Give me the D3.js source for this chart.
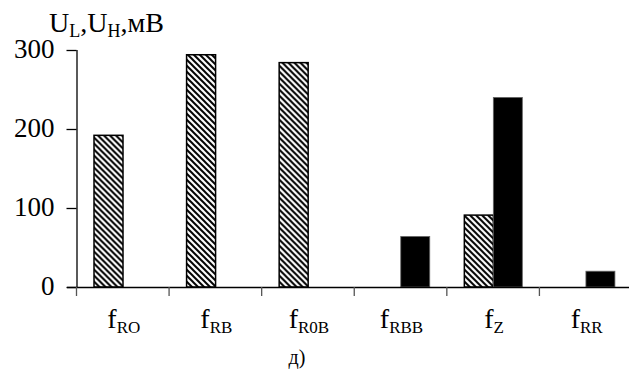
<!DOCTYPE html>
<html>
<head>
<meta charset="utf-8">
<script src="https://cdn.jsdelivr.net/npm/d3@7"></script>
<style>
  body { margin: 0; background: #fff; }
  text { font-family: "Liberation Serif", Tinos, "Times New Roman", Times, "DejaVu Serif", serif; fill: #000; }
</style>
</head>
<body>
<svg id="chart" width="629" height="383"></svg>
<script>
// categories (subscript part of f labels) and the two series
const categories = ["RO", "RB", "R0B", "RBB", "Z", "RR"]
const uL = [192, 294, 284, 0, 91, 0]   // hatched
const uH = [0, 0, 0, 64, 240, 20]      // black
const yTicks = [0, 100, 200, 300]

const svg = d3.select("#chart")
const y0 = 287, yTop = 50
const xLeft = 76.5, xRight = 632

const x = d3.scaleBand().domain(categories).range([xLeft, xRight]).padding(0)
const y = d3.scaleLinear().domain([0, 300]).range([y0, yTop])
const sub = d3.scaleBand().domain(["L", "H"]).range([17.5, 75.5]).padding(0)

// hatch pattern
const defs = svg.append("defs")
const pat = defs.append("pattern")
  .attr("id", "hatch")
  .attr("patternUnits", "userSpaceOnUse")
  .attr("width", 6).attr("height", 6)
pat.append("rect").attr("width", 6).attr("height", 6).attr("fill", "#fff")
pat.append("path")
  .attr("d", "M-1,-1 L7,7 M-4,2 L2,8 M4,-2 L8,2")
  .attr("stroke", "#000").attr("stroke-width", 2)

// y axis
const yAxis = svg.append("g")
  .attr("transform", `translate(${xLeft},0)`)
  .call(d3.axisLeft(y).tickValues(yTicks).tickSize(10).tickPadding(12))
yAxis.attr("font-family", null).attr("font-size", null)
yAxis.select(".domain").attr("d", `M0.5,${y(300)}V${y0}`).attr("stroke", "#000").attr("stroke-width", 1.3)
yAxis.selectAll(".tick line").attr("stroke", "#000").attr("stroke-width", 1.3)
yAxis.selectAll(".tick text")
  .style("font-size", "27px")
  .attr("dy", "0.28em")

// bars
const groups = svg.append("g").selectAll("g")
  .data(categories)
  .join("g")
  .attr("transform", d => `translate(${x(d)},0)`)

groups.each(function (c, i) {
  const g = d3.select(this)
  if (uL[i] > 0) {
    g.append("rect")
      .attr("x", sub("L")).attr("width", sub.bandwidth())
      .attr("y", y(uL[i])).attr("height", y0 - y(uL[i]))
      .attr("fill", "url(#hatch)")
      .attr("stroke", "#000").attr("stroke-width", 1.5)
  }
  if (uH[i] > 0) {
    g.append("rect")
      .attr("x", sub("H")).attr("width", sub.bandwidth())
      .attr("y", y(uH[i])).attr("height", y0 - y(uH[i]))
      .attr("fill", "#000")
      .attr("stroke", "#666").attr("stroke-width", 0.8)
  }
})

// x axis line and boundary ticks
svg.append("line")
  .attr("x1", 67).attr("x2", 629)
  .attr("y1", y0 + 0.5).attr("y2", y0 + 0.5)
  .attr("stroke", "#000").attr("stroke-width", 1.3)
svg.append("g").selectAll("line")
  .data(categories)
  .join("line")
  .attr("x1", d => x(d)).attr("x2", d => x(d))
  .attr("y1", y0).attr("y2", y0 + 9)
  .attr("stroke", "#555").attr("stroke-width", 1.3)

// x labels f with subscripts
const labels = svg.append("g").selectAll("text")
  .data(categories)
  .join("text")
  .attr("x", d => x(d) + x.bandwidth() / 2 + 1)
  .attr("y", 328)
  .attr("text-anchor", "middle")
  .style("font-size", "28px")
labels.append("tspan").text("f")
labels.append("tspan").attr("dy", 5).style("font-size", "17px").text(d => d)

// y title
const title = svg.append("text").attr("x", 49).attr("y", 32).style("font-size", "28px")
title.append("tspan").text("U")
title.append("tspan").attr("dy", 5).style("font-size", "18px").text("L")
title.append("tspan").attr("dy", -5).text(",U")
title.append("tspan").attr("dy", 5).style("font-size", "18px").text("H")
title.append("tspan").attr("dy", -5).text(",мВ")

// caption
svg.append("text")
  .attr("x", 297).attr("y", 364)
  .attr("text-anchor", "middle")
  .style("font-size", "20px")
  .text("д)")
</script>
</body>
</html>
